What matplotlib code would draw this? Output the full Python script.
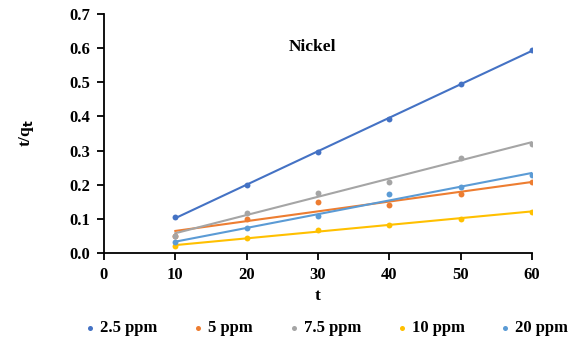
import matplotlib.pyplot as plt
import numpy as np

plt.rcParams["font.family"] = ["Liberation Serif", "DejaVu Serif"]
plt.rcParams["font.weight"] = "bold"

t = [10, 20, 30, 40, 50, 60]
labels = ["2.5 ppm", "5 ppm", "7.5 ppm", "10 ppm", "20 ppm"]
colors = ["#4472C4", "#ED7D31", "#A5A5A5", "#FFC000", "#5B9BD5"]

ppm_2_5 = [0.106, 0.198, 0.296, 0.393, 0.496, 0.594]
ppm_5 = [0.050, 0.099, 0.148, 0.140, 0.173, 0.208]
ppm_7_5 = [0.050, 0.117, 0.175, 0.207, 0.279, 0.320]
ppm_10 = [0.021, 0.043, 0.066, 0.083, 0.101, 0.121]
ppm_20 = [0.031, 0.072, 0.107, 0.173, 0.193, 0.227]
series = [ppm_2_5, ppm_5, ppm_7_5, ppm_10, ppm_20]

fig = plt.figure(figsize=(5.79, 3.43), dpi=100)
ax = fig.add_axes([104 / 579, 1 - 253 / 343, 428 / 579, 239 / 343])

x = np.array(t, dtype=float)
for y, c, lab in zip(series, colors, labels):
    # linear trendline through each series
    k, b = np.polyfit(x, y, 1)
    ax.plot([x[0], x[-1]], [k * x[0] + b, k * x[-1] + b], color=c, lw=1.5, zorder=2)
    ax.scatter(x, y, s=18, color=c, label=lab, zorder=3, linewidths=0)

ax.set_xlim(0, 60)
ax.set_ylim(0, 0.7)
ax.set_xticks(range(0, 61, 10))
ax.set_yticks(np.arange(0, 0.71, 0.1))
ax.set_yticklabels([f"{v:.1f}" for v in np.arange(0, 0.71, 0.1)])
for s in ["top", "right"]:
    ax.spines[s].set_visible(False)
for s in ["left", "bottom"]:
    ax.spines[s].set_linewidth(1.3)
ax.tick_params(axis="both", direction="out", length=5, width=1.3, labelsize=12, pad=5)

ax.set_xlabel("t", fontsize=12.5, fontweight="bold", labelpad=4)
ax.set_ylabel("t/q$_\\mathbf{t}$", fontsize=12.5, fontweight="bold", labelpad=24)
ax.text(0.488, 0.862, "Nickel", transform=ax.transAxes, fontsize=12.5, fontweight="bold",
        ha="center", va="center")

ax.legend(loc="center", bbox_to_anchor=(0.521, -0.315), ncol=5, frameon=False,
          fontsize=12, handlelength=0.5, handletextpad=0.35, columnspacing=2.2,
          markerscale=0.85, borderaxespad=0, borderpad=0)

fig.savefig("out.png", dpi=100)
